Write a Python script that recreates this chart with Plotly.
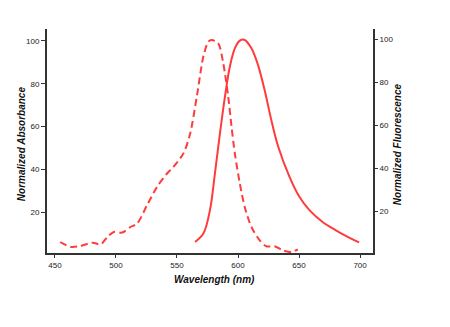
import plotly.graph_objects as go

# Absorbance (dashed)
abs_wl = [454.3, 463.0, 469.8, 480.7, 487.5, 492.9, 498.3, 505.1, 511.9, 517.3, 525.5, 533.6,
          541.8, 547.1, 555.3, 560.7, 566.2, 571.6, 575.7, 578.4, 583.8, 587.9, 592.0, 594.7,
          597.4, 601.5, 605.5, 611.0, 617.8, 623.2, 630.0, 636.7, 643.5, 649.0]
abs_val = [6.1, 3.8, 4.1, 5.8, 5.0, 8.4, 10.8, 10.5, 13.1, 14.7, 23.3, 31.8,
           38.1, 41.2, 47.5, 56.5, 73.9, 92.7, 99.7, 100.5, 98.9, 89.6, 73.9, 59.9,
           47.5, 33.4, 22.5, 13.1, 6.9, 4.1, 4.1, 2.2, 1.4, 2.6]

# Fluorescence (solid)
fl_wl = [564.8, 571.6, 577.0, 581.1, 585.2, 589.3, 593.3, 597.4, 601.5, 605.5, 611.0, 616.4,
         621.8, 627.3, 632.7, 642.2, 650.3, 658.5, 669.3, 680.2, 691.0, 699.2]
fl_val = [5.7, 9.6, 20.5, 37.6, 56.2, 73.3, 87.2, 95.8, 99.4, 99.7, 95.8, 88.0,
          76.4, 62.4, 50.5, 36.0, 26.7, 20.5, 15.0, 11.1, 7.7, 5.5]

x_ticks = [450, 500, 550, 600, 650, 700]
y_ticks = [20, 40, 60, 80, 100]

RED = "#ff3b3b"
AX = "#333333"
FONT = "Liberation Sans, Arial, sans-serif"

W, H = 450, 327
L, R, T, B = 47, 373, 29, 252.7

fig = go.Figure()
fig.add_trace(go.Scatter(x=abs_wl, y=abs_val, mode="lines",
                         line=dict(color=RED, width=2, dash="7px,4px", shape="spline", smoothing=0.8),
                         yaxis="y", showlegend=False, hoverinfo="skip"))
fig.add_trace(go.Scatter(x=fl_wl, y=fl_val, mode="lines",
                         line=dict(color=RED, width=2, shape="spline", smoothing=1),
                         yaxis="y2", showlegend=False, hoverinfo="skip"))

tickfont = dict(family=FONT, size=8, color="#222222")
fig.update_layout(
    width=W, height=H,
    margin=dict(l=L, r=W - R, t=T, b=H - B, pad=0),
    paper_bgcolor="white", plot_bgcolor="white",
    xaxis=dict(range=[443.5, 710.6], tickvals=x_ticks, ticks="outside", ticklen=3, tickwidth=1, tickcolor=AX,
               showline=True, linecolor=AX, linewidth=2, showgrid=False, zeroline=False, tickfont=tickfont),
    yaxis=dict(range=[0.96, 105.6], tickvals=y_ticks, ticks="outside", ticklen=4, tickwidth=1, tickcolor=AX,
               showline=True, linecolor=AX, linewidth=2, showgrid=False, zeroline=False, tickfont=tickfont),
    yaxis2=dict(range=[0.57, 104.8], tickvals=y_ticks, ticks="outside", ticklen=3, tickwidth=1, tickcolor=AX,
                overlaying="y", side="right", anchor="x",
                showline=True, linecolor=AX, linewidth=2, showgrid=False, zeroline=False, tickfont=tickfont),
)

def px(x):
    return (x - L) / (R - L)

def py(y):
    return (B - y) / (B - T)

title_font = dict(family=FONT, size=10, color="#111111")
fig.add_annotation(text="<b><i>Normalized Absorbance</i></b>", xref="paper", yref="paper",
                   x=px(21), y=py(144), textangle=-90, showarrow=False, font=title_font,
                   xanchor="center", yanchor="middle")
fig.add_annotation(text="<b><i>Normalized Fluorescence</i></b>", xref="paper", yref="paper",
                   x=px(397), y=py(144), textangle=-90, showarrow=False, font=title_font,
                   xanchor="center", yanchor="middle")
fig.add_annotation(text="<b><i>Wavelength (nm)</i></b>", xref="paper", yref="paper",
                   x=px(214), y=py(279), showarrow=False, font=title_font,
                   xanchor="center", yanchor="middle")

fig.write_html("out.html")
